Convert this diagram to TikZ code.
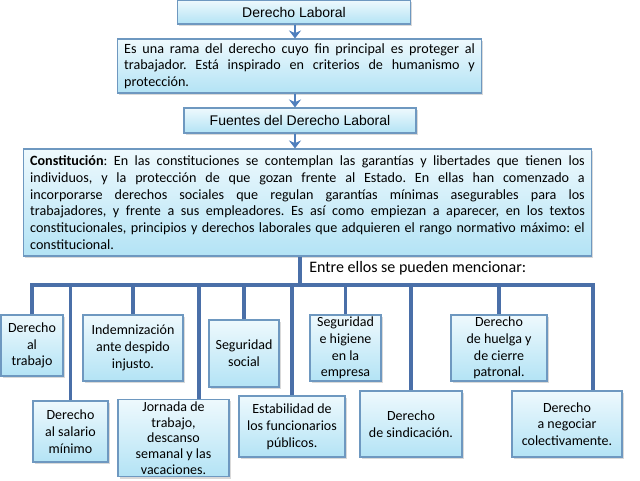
\documentclass[tikz,border=0pt]{standalone}
\usepackage{fontspec}
\setmainfont{Carlito}
\newfontfamily\arialfont{Liberation Sans}
\frenchspacing
\usepackage{tikz}
\usetikzlibrary{arrows.meta, positioning, shadows}
\definecolor{bordeCaja}{HTML}{6E98C0}
\definecolor{cieloClaro}{HTML}{EEF9FD}
\definecolor{cieloFondo}{HTML}{B3E3F5}
\definecolor{azulRama}{HTML}{4A6FA8}
\definecolor{azulFlecha}{HTML}{4F7FBD}

\begin{document}
\begin{tikzpicture}[x=0.75pt, y=-0.75pt,
  cajabase/.style={draw=bordeCaja, line width=0.8pt, top color=cieloClaro, bottom color=cieloFondo,
                drop shadow={opacity=0.3, shadow xshift=1.2pt, shadow yshift=-1.5pt},
                inner sep=1pt, align=center},
  cajaTitulo/.style={cajabase, font=\arialfont\fontsize{10.5}{12}\selectfont},
  cajaTexto/.style={cajabase, align=justify, inner xsep=5pt, font=\fontsize{10.6}{12.5}\selectfont},
  cajaRama/.style={cajabase, font=\fontsize{10.5}{12.6}\selectfont},
  flecha/.style={-{Stealth[length=6pt, width=9pt, inset=2pt]}, line width=2.2pt, azulFlecha},
  linea/.style={line width=2.3pt, azulRama},
]
  \useasboundingbox (0,0) rectangle (640,480);
  \clip (0,0) rectangle (640,480);
  \coordinate (eje) at (295,0);
  \coordinate (barra) at (300,285);
  \coordinate (barraFin) at (593,285);
  \coordinate (bajadaJornada) at (199,285);

  % Titulo
  \node[cajaTitulo, minimum width=175pt, minimum height=18pt] (titulo) at (294,12) {Derecho Laboral};
  % Definicion
  \node[cajaTexto, text width=263pt, minimum height=40.5pt] (definicion) at (299.5,66) {%
    Es una rama del derecho cuyo fin principal es proteger al\linebreak
    trabajador. Está inspirado en criterios de humanismo y\linebreak
    protección.};
  % Fuentes
  \node[cajaTitulo, minimum width=174pt, minimum height=18.75pt] (fuentes) at (300,120.5) {Fuentes del Derecho Laboral};
  % Constitucion
  \node[cajaTexto, text width=416pt, minimum height=80.25pt] (constitucion) at (307.5,202.5) {%
    \textbf{Constitución}: En las constituciones se contemplan las garantías y libertades que tienen los\linebreak
    individuos, y la protección de que gozan frente al Estado. En ellas han comenzado a\linebreak
    incorporarse derechos sociales que regulan garantías mínimas asegurables para los\linebreak
    trabajadores, y frente a sus empleadores. Es así como empiezan a aparecer, en los textos\linebreak
    constitucionales, principios y derechos laborales que adquieren el rango normativo máximo: el\linebreak
    constitucional.};
  \node[font=\fontsize{12}{14}\selectfont, anchor=west, inner sep=0pt] (entre) at (309,268) {Entre ellos se pueden mencionar:};

  \draw[flecha] (titulo.south -| eje) -- (definicion.north -| eje);
  \draw[flecha] (definicion.south -| eje) -- (fuentes.north -| eje);
  \draw[flecha] (fuentes.south -| eje) -- (constitucion.north -| eje);

  % Derechos (fila de arriba)
  \node[cajaRama, minimum width=46.5pt, minimum height=45.75pt] (trabajo) at (32,345.5) {Derecho\\al\\trabajo};
  \node[cajaRama, minimum width=75pt, minimum height=49.5pt] (indemnizacion) at (133,348) {Indemnización\\ante despido\\injusto.};
  \node[cajaRama, minimum width=52.5pt, minimum height=50.25pt] (segSocial) at (244,353.5) {Seguridad\\social};
  \node[cajaRama, minimum width=53.25pt, minimum height=49.5pt, inner sep=0pt] (higiene) at (345.5,348) {Seguridad\\e higiene\\en la\\empresa};
  \node[cajaRama, minimum width=72pt, minimum height=49.5pt, inner sep=0pt] (huelga) at (499,348) {Derecho\\de huelga y\\de cierre\\patronal.};
  % Derechos (fila de abajo)
  \node[cajaRama, minimum width=56.25pt, minimum height=45.75pt] (salario) at (70.5,431.5) {Derecho\\al salario\\mínimo};
  \node[cajaRama, minimum width=83.25pt, minimum height=58pt, inner sep=0pt,
        font=\fontsize{10.5}{11.8}\selectfont] (jornada) at (173.5,438) {Jornada de\\trabajo,\\descanso\\semanal y las\\vacaciones.};
  \node[cajaRama, minimum width=79.5pt, minimum height=45.75pt] (estabilidad) at (292,426.5) {Estabilidad de\\los funcionarios\\públicos.};
  \node[cajaRama, minimum width=76.5pt, minimum height=49.5pt] (sindicacion) at (411,424) {Derecho\\de sindicación.};
  \node[cajaRama, minimum width=82.5pt, minimum height=49.5pt] (colectivo) at (567,424) {Derecho\\a negociar\\colectivamente.};

  % Ramas
  \draw[linea] (constitucion.south -| barra) -- (barra);
  \draw[linea] (trabajo.north) |- (barraFin) -- (barraFin |- colectivo.north);
  \draw[linea] (barra -| indemnizacion.north) -- (indemnizacion.north);
  \draw[linea] (barra -| segSocial.north) -- (segSocial.north);
  \draw[linea] (barra -| higiene.north) -- (higiene.north);
  \draw[linea] (barra -| huelga.north) -- (huelga.north);
  \draw[linea] (barra -| salario.north) -- (salario.north);
  \draw[linea] (bajadaJornada) -- (bajadaJornada |- jornada.north);
  \draw[linea] (barra -| estabilidad.north) -- (estabilidad.north);
  \draw[linea] (barra -| sindicacion.north) -- (sindicacion.north);
\end{tikzpicture}
\end{document}
